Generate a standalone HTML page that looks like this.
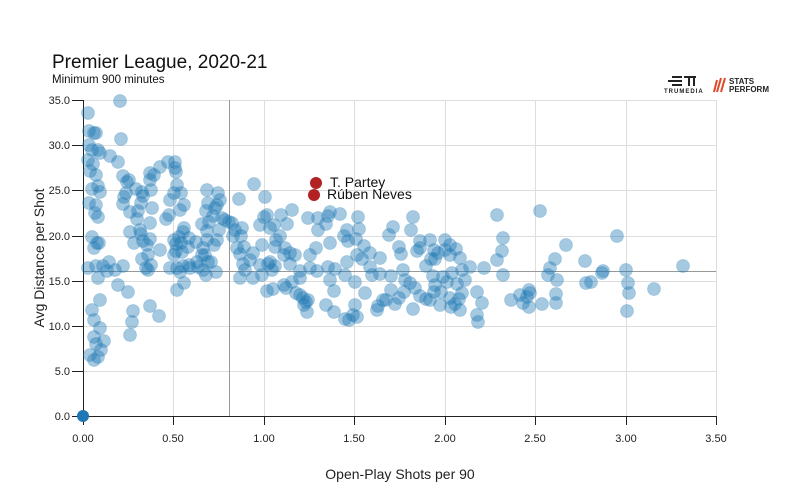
<!DOCTYPE html>
<html><head><meta charset="utf-8"><style>
body{margin:0;background:#fff;}
svg{display:block;font-family:"Liberation Sans",sans-serif;}
#pts circle{r:6.5px;}
</style></head><body>
<svg width="800" height="500" xmlns="http://www.w3.org/2000/svg">
<rect width="800" height="500" fill="#fff"/>
<text x="52" y="68" font-size="19" fill="#111">Premier League, 2020-21</text>
<text x="52" y="83" font-size="11.5" fill="#111">Minimum 900 minutes</text>
<g fill="#222">
<rect x="672" y="76" width="10" height="2"/><rect x="668" y="80" width="14" height="2"/><rect x="672" y="84" width="10" height="2"/>
<rect x="684" y="76" width="12" height="2"/><rect x="688" y="76" width="2" height="10"/><rect x="693" y="76" width="2" height="10"/>
<text x="664" y="93" font-size="6" font-weight="bold" letter-spacing="1">TRUMEDIA</text>
<text x="729" y="84" font-size="8" font-weight="bold">STATS</text>
<text x="729" y="92" font-size="8" font-weight="bold">PERFORM</text>
</g>
<path d="M717 80 l-3 12 M721 78 l-4 14 M725 78 l-4 14" stroke="#e0482a" stroke-width="2"/>
<g stroke="#ddd" stroke-width="1">
<line x1="83" y1="100.5" x2="716" y2="100.5"/><line x1="83" y1="145.5" x2="716" y2="145.5"/><line x1="83" y1="190.5" x2="716" y2="190.5"/><line x1="83" y1="236.5" x2="716" y2="236.5"/><line x1="83" y1="281.5" x2="716" y2="281.5"/><line x1="83" y1="326.5" x2="716" y2="326.5"/><line x1="83" y1="371.5" x2="716" y2="371.5"/>
<line x1="173.5" y1="100" x2="173.5" y2="416"/><line x1="264.5" y1="100" x2="264.5" y2="416"/><line x1="354.5" y1="100" x2="354.5" y2="416"/><line x1="445.5" y1="100" x2="445.5" y2="416"/><line x1="535.5" y1="100" x2="535.5" y2="416"/><line x1="626.5" y1="100" x2="626.5" y2="416"/><line x1="716.5" y1="100" x2="716.5" y2="416"/>
</g>
<line x1="229.5" y1="100" x2="229.5" y2="416" stroke="#999"/>
<line x1="83" y1="271.5" x2="716" y2="271.5" stroke="#999"/>
<g stroke="#222" stroke-width="1">
<line x1="83.5" y1="100" x2="83.5" y2="425"/><line x1="72" y1="416.5" x2="716" y2="416.5"/>
<line x1="72" y1="100.5" x2="83" y2="100.5"/><line x1="72" y1="145.5" x2="83" y2="145.5"/><line x1="72" y1="190.5" x2="83" y2="190.5"/><line x1="72" y1="236.5" x2="83" y2="236.5"/><line x1="72" y1="281.5" x2="83" y2="281.5"/><line x1="72" y1="326.5" x2="83" y2="326.5"/><line x1="72" y1="371.5" x2="83" y2="371.5"/>
<line x1="173.5" y1="416" x2="173.5" y2="425"/><line x1="264.5" y1="416" x2="264.5" y2="425"/><line x1="354.5" y1="416" x2="354.5" y2="425"/><line x1="445.5" y1="416" x2="445.5" y2="425"/><line x1="535.5" y1="416" x2="535.5" y2="425"/><line x1="626.5" y1="416" x2="626.5" y2="425"/><line x1="716.5" y1="416" x2="716.5" y2="425"/>
</g>
<g font-size="11" fill="#222" text-anchor="end">
<text x="70" y="104">35.0</text><text x="70" y="149">30.0</text><text x="70" y="194">25.0</text><text x="70" y="240">20.0</text><text x="70" y="285">15.0</text><text x="70" y="330">10.0</text><text x="70" y="375">5.0</text><text x="70" y="420">0.0</text>
</g>
<g font-size="11" fill="#222" text-anchor="middle">
<text x="83" y="442">0.00</text><text x="173" y="442">0.50</text><text x="264" y="442">1.00</text><text x="354" y="442">1.50</text><text x="445" y="442">2.00</text><text x="535" y="442">2.50</text><text x="626" y="442">3.00</text><text x="716" y="442">3.50</text>
</g>
<text x="400" y="479" font-size="14" text-anchor="middle" fill="#222">Open-Play Shots per 90</text>
<text transform="translate(44,258) rotate(-90)" font-size="14" text-anchor="middle" fill="#222">Avg Distance per Shot</text>
<g id="pts" fill="#1f77b4" fill-opacity="0.4" stroke="#1f77b4" stroke-opacity="0.2">
<circle cx="88" cy="113" r="6.5"/><circle cx="89" cy="131" r="6.5"/><circle cx="94" cy="133" r="6.5"/><circle cx="96" cy="133" r="6.5"/><circle cx="89" cy="145" r="6.5"/><circle cx="92" cy="150" r="6.5"/><circle cx="98" cy="150" r="6.5"/><circle cx="100" cy="153" r="6.5"/><circle cx="88" cy="160" r="6.5"/><circle cx="93" cy="164" r="6.5"/><circle cx="96" cy="175" r="6.5"/><circle cx="90" cy="171" r="6.5"/><circle cx="98" cy="186" r="6.5"/><circle cx="92" cy="189" r="6.5"/><circle cx="100" cy="192" r="6.5"/><circle cx="89" cy="203" r="6.5"/><circle cx="96" cy="205" r="6.5"/><circle cx="95" cy="213" r="6.5"/><circle cx="98" cy="217" r="6.5"/><circle cx="92" cy="237" r="6.5"/><circle cx="99" cy="243" r="6.5"/><circle cx="94" cy="248" r="6.5"/><circle cx="97" cy="243" r="6.5"/><circle cx="88" cy="268" r="6.5"/><circle cx="96" cy="266" r="6.5"/><circle cx="103" cy="266" r="6.5"/><circle cx="107" cy="271" r="6.5"/><circle cx="98" cy="278" r="6.5"/><circle cx="100" cy="300" r="6.5"/><circle cx="92" cy="310" r="6.5"/><circle cx="94" cy="320" r="6.5"/><circle cx="100" cy="328" r="6.5"/><circle cx="94" cy="337" r="6.5"/><circle cx="96" cy="344" r="6.5"/><circle cx="90" cy="355" r="6.5"/><circle cx="98" cy="357" r="6.5"/><circle cx="94" cy="360" r="6.5"/><circle cx="101" cy="350" r="6.5"/><circle cx="104" cy="341" r="6.5"/>
<circle cx="120" cy="101" r="6.5"/><circle cx="121" cy="139" r="6.5"/><circle cx="110" cy="156" r="6.5"/><circle cx="118" cy="162" r="6.5"/><circle cx="123" cy="176" r="6.5"/><circle cx="127" cy="182" r="6.5"/><circle cx="124" cy="197" r="6.5"/><circle cx="136" cy="189" r="6.5"/><circle cx="126" cy="193" r="6.5"/><circle cx="130" cy="212" r="6.5"/><circle cx="141" cy="203" r="6.5"/><circle cx="143" cy="196" r="6.5"/><circle cx="142" cy="192" r="6.5"/><circle cx="123" cy="204" r="6.5"/><circle cx="129" cy="180" r="6.5"/><circle cx="150" cy="173" r="6.5"/><circle cx="160" cy="167" r="6.5"/><circle cx="150" cy="180" r="6.5"/><circle cx="154" cy="175" r="6.5"/><circle cx="151" cy="190" r="6.5"/><circle cx="152" cy="208" r="6.5"/><circle cx="138" cy="211" r="6.5"/><circle cx="137" cy="219" r="6.5"/><circle cx="140" cy="230" r="6.5"/><circle cx="130" cy="232" r="6.5"/><circle cx="141" cy="234" r="6.5"/><circle cx="134" cy="243" r="6.5"/><circle cx="150" cy="239" r="6.5"/><circle cx="143" cy="241" r="6.5"/><circle cx="147" cy="245" r="6.5"/><circle cx="148" cy="255" r="6.5"/><circle cx="150" cy="223" r="6.5"/><circle cx="142" cy="259" r="6.5"/><circle cx="148" cy="270" r="6.5"/><circle cx="151" cy="265" r="6.5"/><circle cx="146" cy="268" r="6.5"/><circle cx="123" cy="266" r="6.5"/><circle cx="115" cy="270" r="6.5"/><circle cx="109" cy="262" r="6.5"/><circle cx="118" cy="285" r="6.5"/><circle cx="128" cy="292" r="6.5"/><circle cx="133" cy="311" r="6.5"/><circle cx="132" cy="322" r="6.5"/><circle cx="130" cy="335" r="6.5"/><circle cx="150" cy="306" r="6.5"/><circle cx="159" cy="316" r="6.5"/>
<circle cx="168" cy="162" r="6.5"/><circle cx="175" cy="162" r="6.5"/><circle cx="175" cy="168" r="6.5"/><circle cx="176" cy="172" r="6.5"/><circle cx="181" cy="193" r="6.5"/><circle cx="174" cy="193" r="6.5"/><circle cx="177" cy="185" r="6.5"/><circle cx="170" cy="200" r="6.5"/><circle cx="184" cy="205" r="6.5"/><circle cx="180" cy="210" r="6.5"/><circle cx="169" cy="215" r="6.5"/><circle cx="166" cy="219" r="6.5"/><circle cx="184" cy="228" r="6.5"/><circle cx="183" cy="232" r="6.5"/><circle cx="179" cy="237" r="6.5"/><circle cx="181" cy="243" r="6.5"/><circle cx="182" cy="252" r="6.5"/><circle cx="176" cy="244" r="6.5"/><circle cx="188" cy="247" r="6.5"/><circle cx="189" cy="238" r="6.5"/><circle cx="174" cy="240" r="6.5"/><circle cx="176" cy="251" r="6.5"/><circle cx="160" cy="250" r="6.5"/><circle cx="174" cy="255" r="6.5"/><circle cx="183" cy="266" r="6.5"/><circle cx="189" cy="265" r="6.5"/><circle cx="170" cy="268" r="6.5"/><circle cx="180" cy="272" r="6.5"/><circle cx="184" cy="283" r="6.5"/><circle cx="177" cy="290" r="6.5"/><circle cx="177" cy="268" r="6.5"/><circle cx="202" cy="224" r="6.5"/><circle cx="206" cy="211" r="6.5"/><circle cx="208" cy="203" r="6.5"/><circle cx="207" cy="190" r="6.5"/><circle cx="215" cy="208" r="6.5"/><circle cx="217" cy="205" r="6.5"/><circle cx="213" cy="216" r="6.5"/><circle cx="220" cy="200" r="6.5"/><circle cx="209" cy="222" r="6.5"/><circle cx="207" cy="240" r="6.5"/><circle cx="217" cy="240" r="6.5"/><circle cx="214" cy="245" r="6.5"/><circle cx="203" cy="248" r="6.5"/><circle cx="205" cy="255" r="6.5"/><circle cx="196" cy="242" r="6.5"/><circle cx="197" cy="262" r="6.5"/><circle cx="211" cy="262" r="6.5"/><circle cx="206" cy="275" r="6.5"/><circle cx="216" cy="272" r="6.5"/><circle cx="203" cy="270" r="6.5"/><circle cx="198" cy="267" r="6.5"/><circle cx="202" cy="255" r="6.5"/><circle cx="207" cy="231" r="6.5"/><circle cx="219" cy="230" r="6.5"/><circle cx="225" cy="220" r="6.5"/><circle cx="229" cy="222" r="6.5"/><circle cx="218" cy="193" r="6.5"/><circle cx="222" cy="218" r="6.5"/><circle cx="208" cy="262" r="6.5"/><circle cx="190" cy="268" r="6.5"/>
<circle cx="239" cy="199" r="6.5"/><circle cx="232" cy="223" r="6.5"/><circle cx="235" cy="230" r="6.5"/><circle cx="242" cy="228" r="6.5"/><circle cx="244" cy="247" r="6.5"/><circle cx="233" cy="236" r="6.5"/><circle cx="241" cy="236" r="6.5"/><circle cx="237" cy="248" r="6.5"/><circle cx="250" cy="260" r="6.5"/><circle cx="245" cy="270" r="6.5"/><circle cx="243" cy="264" r="6.5"/><circle cx="240" cy="278" r="6.5"/><circle cx="253" cy="253" r="6.5"/><circle cx="262" cy="275" r="6.5"/><circle cx="253" cy="278" r="6.5"/><circle cx="240" cy="254" r="6.5"/><circle cx="262" cy="245" r="6.5"/><circle cx="264" cy="217" r="6.5"/><circle cx="270" cy="228" r="6.5"/><circle cx="276" cy="240" r="6.5"/><circle cx="274" cy="225" r="6.5"/><circle cx="284" cy="255" r="6.5"/><circle cx="275" cy="247" r="6.5"/><circle cx="284" cy="285" r="6.5"/><circle cx="270" cy="262" r="6.5"/><circle cx="260" cy="265" r="6.5"/><circle cx="273" cy="289" r="6.5"/><circle cx="300" cy="271" r="6.5"/><circle cx="267" cy="291" r="6.5"/><circle cx="290" cy="264" r="6.5"/><circle cx="275" cy="266" r="6.5"/><circle cx="268" cy="264" r="6.5"/><circle cx="280" cy="236" r="6.5"/><circle cx="287" cy="224" r="6.5"/><circle cx="292" cy="210" r="6.5"/><circle cx="267" cy="215" r="6.5"/><circle cx="285" cy="248" r="6.5"/><circle cx="254" cy="184" r="6.5"/><circle cx="265" cy="197" r="6.5"/><circle cx="272" cy="270" r="6.5"/><circle cx="260" cy="225" r="6.5"/><circle cx="281" cy="215" r="6.5"/><circle cx="290" cy="253" r="6.5"/><circle cx="292" cy="282" r="6.5"/><circle cx="286" cy="288" r="6.5"/><circle cx="300" cy="278" r="6.5"/><circle cx="306" cy="302" r="6.5"/><circle cx="308" cy="300" r="6.5"/><circle cx="303" cy="298" r="6.5"/><circle cx="300" cy="295" r="6.5"/><circle cx="296" cy="293" r="6.5"/><circle cx="304" cy="305" r="6.5"/><circle cx="307" cy="312" r="6.5"/><circle cx="310" cy="268" r="6.5"/><circle cx="317" cy="271" r="6.5"/><circle cx="310" cy="255" r="6.5"/><circle cx="295" cy="255" r="6.5"/><circle cx="316" cy="248" r="6.5"/><circle cx="318" cy="230" r="6.5"/><circle cx="318" cy="218" r="6.5"/><circle cx="308" cy="218" r="6.5"/>
<circle cx="328" cy="216" r="6.5"/><circle cx="330" cy="243" r="6.5"/><circle cx="330" cy="212" r="6.5"/><circle cx="326" cy="224" r="6.5"/><circle cx="340" cy="214" r="6.5"/><circle cx="344" cy="236" r="6.5"/><circle cx="347" cy="230" r="6.5"/><circle cx="348" cy="241" r="6.5"/><circle cx="335" cy="269" r="6.5"/><circle cx="330" cy="280" r="6.5"/><circle cx="334" cy="291" r="6.5"/><circle cx="345" cy="275" r="6.5"/><circle cx="328" cy="267" r="6.5"/><circle cx="326" cy="305" r="6.5"/><circle cx="334" cy="312" r="6.5"/><circle cx="345" cy="319" r="6.5"/><circle cx="349" cy="320" r="6.5"/><circle cx="353" cy="315" r="6.5"/><circle cx="355" cy="305" r="6.5"/><circle cx="357" cy="317" r="6.5"/><circle cx="362" cy="259" r="6.5"/><circle cx="355" cy="282" r="6.5"/><circle cx="364" cy="246" r="6.5"/><circle cx="359" cy="229" r="6.5"/><circle cx="358" cy="217" r="6.5"/><circle cx="356" cy="239" r="6.5"/><circle cx="370" cy="253" r="6.5"/><circle cx="357" cy="255" r="6.5"/><circle cx="347" cy="262" r="6.5"/><circle cx="370" cy="267" r="6.5"/><circle cx="372" cy="275" r="6.5"/><circle cx="365" cy="293" r="6.5"/><circle cx="378" cy="306" r="6.5"/><circle cx="377" cy="310" r="6.5"/><circle cx="383" cy="300" r="6.5"/><circle cx="391" cy="290" r="6.5"/><circle cx="395" cy="304" r="6.5"/><circle cx="399" cy="298" r="6.5"/><circle cx="386" cy="300" r="6.5"/><circle cx="380" cy="274" r="6.5"/><circle cx="391" cy="276" r="6.5"/><circle cx="380" cy="258" r="6.5"/><circle cx="393" cy="227" r="6.5"/><circle cx="389" cy="235" r="6.5"/>
<circle cx="401" cy="254" r="6.5"/><circle cx="403" cy="270" r="6.5"/><circle cx="405" cy="280" r="6.5"/><circle cx="410" cy="283" r="6.5"/><circle cx="404" cy="292" r="6.5"/><circle cx="415" cy="288" r="6.5"/><circle cx="413" cy="309" r="6.5"/><circle cx="420" cy="296" r="6.5"/><circle cx="426" cy="299" r="6.5"/><circle cx="430" cy="300" r="6.5"/><circle cx="434" cy="292" r="6.5"/><circle cx="441" cy="292" r="6.5"/><circle cx="447" cy="282" r="6.5"/><circle cx="450" cy="298" r="6.5"/><circle cx="451" cy="307" r="6.5"/><circle cx="455" cy="304" r="6.5"/><circle cx="462" cy="293" r="6.5"/><circle cx="459" cy="299" r="6.5"/><circle cx="460" cy="310" r="6.5"/><circle cx="440" cy="305" r="6.5"/><circle cx="435" cy="285" r="6.5"/><circle cx="433" cy="276" r="6.5"/><circle cx="443" cy="277" r="6.5"/><circle cx="452" cy="273" r="6.5"/><circle cx="457" cy="284" r="6.5"/><circle cx="462" cy="270" r="6.5"/><circle cx="460" cy="258" r="6.5"/><circle cx="450" cy="255" r="6.5"/><circle cx="445" cy="250" r="6.5"/><circle cx="450" cy="245" r="6.5"/><circle cx="445" cy="240" r="6.5"/><circle cx="435" cy="259" r="6.5"/><circle cx="434" cy="250" r="6.5"/><circle cx="420" cy="248" r="6.5"/><circle cx="411" cy="230" r="6.5"/><circle cx="420" cy="241" r="6.5"/><circle cx="430" cy="240" r="6.5"/><circle cx="438" cy="253" r="6.5"/><circle cx="456" cy="249" r="6.5"/><circle cx="470" cy="267" r="6.5"/><circle cx="465" cy="280" r="6.5"/><circle cx="413" cy="217" r="6.5"/><circle cx="426" cy="266" r="6.5"/><circle cx="399" cy="247" r="6.5"/><circle cx="417" cy="251" r="6.5"/><circle cx="431" cy="259" r="6.5"/>
<circle cx="477" cy="292" r="6.5"/><circle cx="477" cy="315" r="6.5"/><circle cx="478" cy="322" r="6.5"/><circle cx="482" cy="303" r="6.5"/><circle cx="497" cy="215" r="6.5"/><circle cx="503" cy="238" r="6.5"/><circle cx="502" cy="251" r="6.5"/><circle cx="497" cy="260" r="6.5"/><circle cx="503" cy="275" r="6.5"/><circle cx="511" cy="300" r="6.5"/><circle cx="520" cy="295" r="6.5"/><circle cx="527" cy="297" r="6.5"/><circle cx="529" cy="290" r="6.5"/><circle cx="523" cy="303" r="6.5"/><circle cx="529" cy="307" r="6.5"/><circle cx="530" cy="293" r="6.5"/><circle cx="540" cy="211" r="6.5"/><circle cx="542" cy="304" r="6.5"/><circle cx="548" cy="275" r="6.5"/><circle cx="550" cy="268" r="6.5"/><circle cx="555" cy="259" r="6.5"/><circle cx="566" cy="245" r="6.5"/><circle cx="556" cy="303" r="6.5"/><circle cx="557" cy="280" r="6.5"/><circle cx="556" cy="294" r="6.5"/><circle cx="585" cy="261" r="6.5"/><circle cx="602" cy="273" r="6.5"/><circle cx="617" cy="236" r="6.5"/><circle cx="629" cy="293" r="6.5"/><circle cx="627" cy="311" r="6.5"/><circle cx="628" cy="283" r="6.5"/><circle cx="586" cy="283" r="6.5"/><circle cx="591" cy="282" r="6.5"/><circle cx="603" cy="271" r="6.5"/><circle cx="626" cy="270" r="6.5"/><circle cx="654" cy="289" r="6.5"/><circle cx="683" cy="266" r="6.5"/><circle cx="484" cy="268" r="6.5"/>
</g>
<circle cx="83" cy="416" r="6" fill="#1f77b4"/>
<circle cx="316" cy="183" r="6" fill="#b22222"/>
<circle cx="314" cy="195" r="6" fill="#b22222"/>
<text x="330" y="187" font-size="14" fill="#111">T. Partey</text>
<text x="327" y="199" font-size="14" fill="#111">Rúben Neves</text>
</svg>
</body></html>
